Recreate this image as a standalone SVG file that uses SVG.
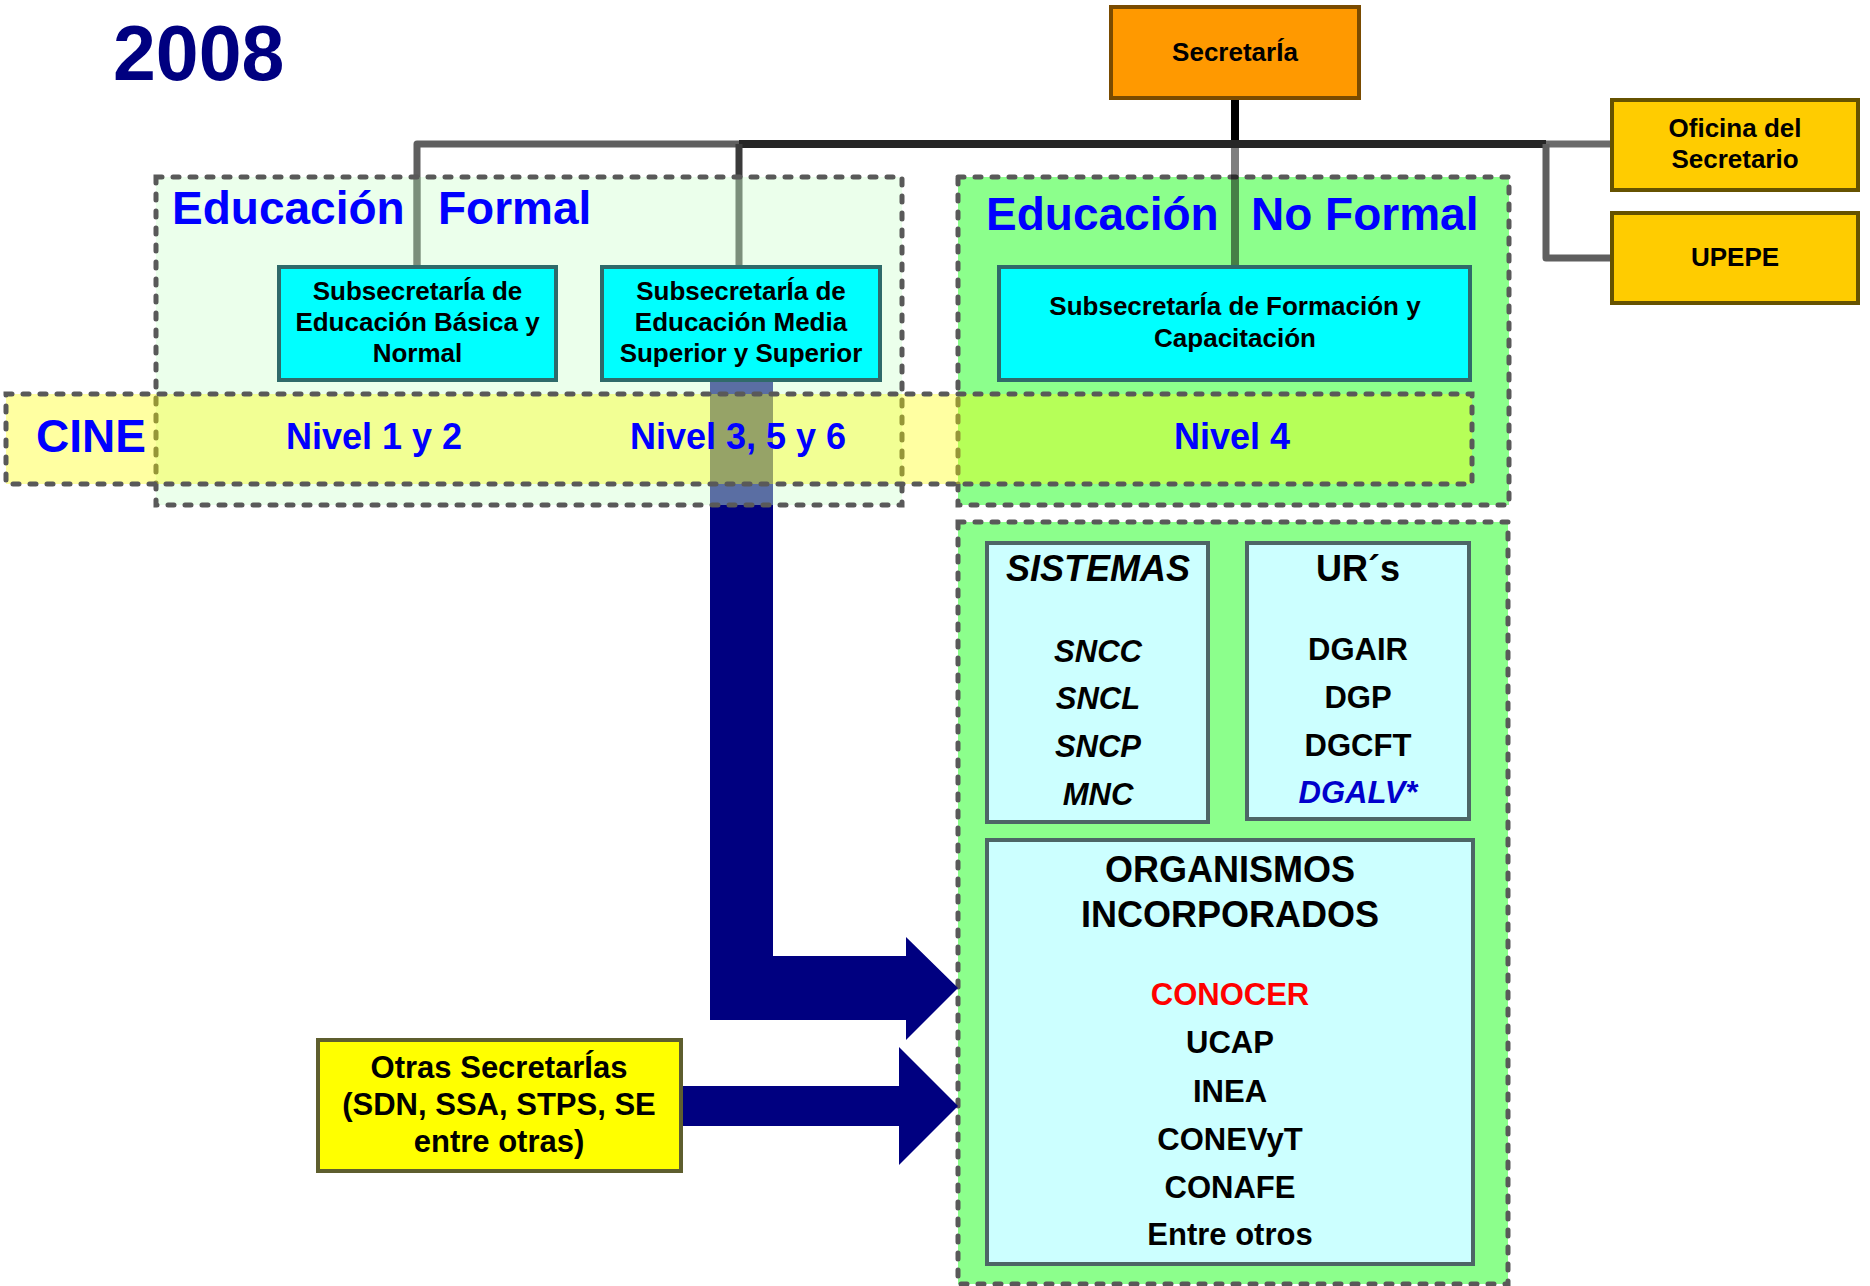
<svg xmlns="http://www.w3.org/2000/svg" width="1870" height="1286" viewBox="0 0 1870 1286">
<defs>
<style>
text{font-family:"Liberation Sans",Arial,sans-serif;font-weight:bold;}
.dash{stroke:#595959;stroke-width:5;stroke-dasharray:6 11;stroke-linecap:round;}
.cyan{fill:#00FFFF;stroke:#2F6A6A;stroke-width:4;}
.pale{fill:#CCFFFF;stroke:#4D6666;stroke-width:4;}
.gold{fill:#FFCC00;stroke:#665200;stroke-width:4;}
.t26{font-size:26px;fill:#000;text-anchor:middle;}
.t31{font-size:31px;fill:#000;text-anchor:middle;}
.t36{font-size:36px;fill:#000;text-anchor:middle;}
.title{font-size:46px;fill:#0000FF;}
.nivel{font-size:36px;fill:#0000FF;text-anchor:middle;}
.it{font-style:italic;}
.conn{fill:none;stroke-linejoin:round;stroke-linecap:butt;}
</style>
</defs>
<rect width="1870" height="1286" fill="#FFFFFF"/>

<text x="113" y="80" font-size="77" fill="#000080">2008</text>

<g id="no-formal">
<rect x="958" y="177" width="551" height="328" fill="#8CFF8C" class="dash"/>
</g>
<g id="no-formal-inferior">
<rect x="958" y="522" width="550" height="762" fill="#8CFF8C" class="dash"/>
</g>

<g id="connectors">
<path class="conn" d="M1235 97 V144" stroke="#000" stroke-width="8"/>
<path class="conn" d="M739 144 H1546" stroke="#262626" stroke-width="8"/>
<path class="conn" d="M417 268 V144 H739" stroke="#5F5F5F" stroke-width="7"/>
<path class="conn" d="M417 177 V268 M739 144 V268" stroke="#3A3A3A" stroke-width="7"/>
<path class="conn" d="M1235 148 V268" stroke="#000" stroke-opacity="0.5" stroke-width="8"/>
<path class="conn" d="M1546 144 H1612" stroke="#6A6A6A" stroke-width="7"/>
<path class="conn" d="M1546 144 V258 H1612" stroke="#5F5F5F" stroke-width="7"/>
<polygon points="710,380 773,380 773,956 906,956 906,937 958,988 906,1040 906,1020 710,1020" fill="#000080"/>
<polygon points="681,1086 899,1086 899,1047 958,1106 899,1165 899,1126 681,1126" fill="#000080"/>
</g>

<g id="formal">
<rect x="156" y="177" width="746" height="328" fill="#D0FFD0" fill-opacity="0.43" class="dash"/>
<text class="title" x="172" y="224">Educación</text>
<text class="title" x="438" y="224">Formal</text>
</g>

<g id="no-formal-titulo">
<text class="title" x="986" y="230">Educación</text>
<text class="title" x="1251" y="230">No Formal</text>
</g>

<g id="cine">
<rect x="6" y="394" width="1466" height="90" fill="#FFFF00" fill-opacity="0.37" class="dash"/>
<text x="36" y="452" font-size="46" fill="#0000FF">CINE</text>
<text class="nivel" x="374" y="449">Nivel 1 y 2</text>
<text class="nivel" x="738" y="449">Nivel 3, 5 y 6</text>
<text class="nivel" x="1232" y="449">Nivel 4</text>
</g>

<g id="secretaria">
<rect x="1111" y="7" width="248" height="91" fill="#FF9900" stroke="#7A4B00" stroke-width="4"/>
<text class="t26" x="1235" y="61">SecretarÍa</text>
</g>

<g id="sub-basica">
<rect class="cyan" x="279" y="267" width="277" height="113"/>
<text class="t26" x="417.5" y="300">SubsecretarÍa de</text>
<text class="t26" x="417.5" y="331">Educación Básica y</text>
<text class="t26" x="417.5" y="362">Normal</text>
</g>

<g id="sub-media">
<rect class="cyan" x="602" y="267" width="278" height="113"/>
<text class="t26" x="741" y="300">SubsecretarÍa de</text>
<text class="t26" x="741" y="331">Educación Media</text>
<text class="t26" x="741" y="362">Superior y Superior</text>
</g>

<g id="sub-formacion">
<rect class="cyan" x="999" y="267" width="471" height="113"/>
<text class="t26" x="1235" y="315">SubsecretarÍa de Formación y</text>
<text class="t26" x="1235" y="347">Capacitación</text>
</g>

<g id="oficina">
<rect class="gold" x="1612" y="100" width="246" height="90"/>
<text class="t26" x="1735" y="137">Oficina del</text>
<text class="t26" x="1735" y="168">Secretario</text>
</g>

<g id="upepe">
<rect class="gold" x="1612" y="213" width="246" height="90"/>
<text class="t26" x="1735" y="266">UPEPE</text>
</g>

<g id="otras">
<rect x="318" y="1040" width="363" height="131" fill="#FFFF00" stroke="#5E5E2E" stroke-width="4"/>
<text class="t31" x="499" y="1078">Otras SecretarÍas</text>
<text class="t31" x="499" y="1115">(SDN, SSA, STPS, SE</text>
<text class="t31" x="499" y="1152">entre otras)</text>
</g>

<g id="sistemas">
<rect class="pale" x="987" y="543" width="221" height="279"/>
<text class="t36 it" x="1098" y="581">SISTEMAS</text>
<text class="t31 it" x="1098" y="662">SNCC</text>
<text class="t31 it" x="1098" y="709">SNCL</text>
<text class="t31 it" x="1098" y="757">SNCP</text>
<text class="t31 it" x="1098" y="805">MNC</text>
</g>

<g id="urs">
<rect class="pale" x="1247" y="543" width="222" height="276"/>
<text class="t36" x="1358" y="581">UR´s</text>
<text class="t31" x="1358" y="660">DGAIR</text>
<text class="t31" x="1358" y="708">DGP</text>
<text class="t31" x="1358" y="756">DGCFT</text>
<text class="t31 it" x="1358" y="803" style="fill:#0000CC">DGALV*</text>
</g>

<g id="organismos">
<rect class="pale" x="987" y="840" width="486" height="424"/>
<text class="t36" x="1230" y="882">ORGANISMOS</text>
<text class="t36" x="1230" y="927">INCORPORADOS</text>
<text class="t31" x="1230" y="1005" style="fill:#FF0000">CONOCER</text>
<text class="t31" x="1230" y="1053">UCAP</text>
<text class="t31" x="1230" y="1102">INEA</text>
<text class="t31" x="1230" y="1150">CONEVyT</text>
<text class="t31" x="1230" y="1198">CONAFE</text>
<text class="t31" x="1230" y="1245">Entre otros</text>
</g>
</svg>
